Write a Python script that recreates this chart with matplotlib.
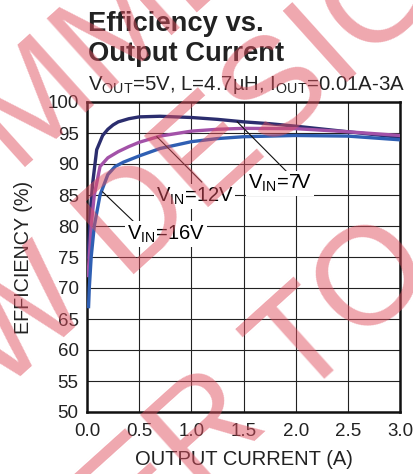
import numpy as np
import matplotlib.pyplot as plt

# dane
x_7v = [0.01, 0.02, 0.035, 0.055, 0.093, 0.15, 0.2, 0.25, 0.3, 0.4, 0.5, 0.7, 1.0, 1.25, 1.5, 1.75, 2.0, 2.5, 3.0]
eff_7v = [75, 78, 83, 87, 92.3, 94.6, 95.6, 96.3, 96.8, 97.3, 97.6, 97.7, 97.5, 97.2, 96.8, 96.5, 96.1, 95.2, 94.3]

x_12v = [0.01, 0.022, 0.04, 0.07, 0.125, 0.2, 0.3, 0.4, 0.5, 0.7, 1.0, 1.25, 1.5, 2.0, 2.5, 3.0]
eff_12v = [72, 75, 80, 85, 89.6, 91, 92, 92.8, 93.5, 94.5, 95.3, 95.6, 95.75, 95.7, 95.2, 94.6]

x_16v = [0.015, 0.022, 0.04, 0.07, 0.125, 0.2, 0.27, 0.35, 0.5, 0.7, 1.0, 1.25, 1.5, 2.0, 2.5, 3.0]
eff_16v = [67, 70, 75, 80, 85, 88.3, 89.6, 90.3, 91.3, 92.5, 93.6, 94.1, 94.4, 94.6, 94.5, 93.9]

x_ticks = [0.0, 0.5, 1.0, 1.5, 2.0, 2.5, 3.0]
y_ticks = [50, 55, 60, 65, 70, 75, 80, 85, 90, 95, 100]

plt.rcParams['font.family'] = ['Liberation Sans', 'DejaVu Sans']
plt.rcParams['mathtext.fontset'] = 'custom'
plt.rcParams['mathtext.rm'] = 'Liberation Sans'
plt.rcParams['mathtext.it'] = 'Liberation Sans'

W, H = 413, 474
fig = plt.figure(figsize=(W / 100, H / 100), dpi=100)
ax = fig.add_axes([87 / W, 1 - 412 / H, 313 / W, 310 / H])


def px(x, y):
    # piksele obrazka -> wspolrzedne figury
    return x / W, 1 - y / H


# krzywe
ax.plot(x_7v, eff_7v, color='#2b2d6e', lw=2.4, zorder=3)
ax.plot(x_12v, eff_12v, color='#a352a8', lw=2.4, zorder=3)
ax.plot(x_16v, eff_16v, color='#2f5fb3', lw=2.4, zorder=3)

ax.set_xlim(0, 3.0)
ax.set_ylim(50, 100)
ax.set_xticks(x_ticks)
ax.set_yticks(y_ticks)
ax.set_xticklabels(['%.1f' % v for v in x_ticks])
ax.tick_params(length=0, labelsize=13.5, colors='#222222')
ax.tick_params(axis='x', pad=8)
ax.tick_params(axis='y', pad=6)
ax.grid(True, color='#222222', lw=0.8)
ax.set_axisbelow(True)
for s in ax.spines.values():
    s.set_linewidth(1.8)
    s.set_color('#111111')

ax.set_xlabel('OUTPUT CURRENT (A)', fontsize=14.5, color='#222222', labelpad=7)
ax.set_ylabel('EFFICIENCY (%)', fontsize=14.2, color='#222222', labelpad=10)

# opisy krzywych z liniami odniesienia
box = dict(facecolor='white', edgecolor='none', pad=1.5)
ax.text(1.54, 86.9, r'V$_{\rm IN}$=7V', fontsize=14.5, va='center', ha='left', bbox=box, zorder=5)
ax.plot([1.44, 1.93], [96.8, 88.5], color='#111111', lw=0.8, zorder=4)
ax.text(1.03, 84.8, r'V$_{\rm IN}$=12V', fontsize=14.5, va='center', ha='center', bbox=box, zorder=5)
ax.plot([0.67, 1.1], [94.4, 87.1], color='#111111', lw=0.8, zorder=4)
ax.text(0.76, 78.7, r'V$_{\rm IN}$=16V', fontsize=14.5, va='center', ha='center', bbox=box, zorder=5)
ax.plot([0.15, 0.46], [85.5, 80.5], color='#111111', lw=0.8, zorder=4)

# tytul
fig.text(*px(88, 31), 'Efficiency vs.', fontsize=19.7, fontweight='bold', color='#222222', va='baseline')
fig.text(*px(88, 61), 'Output Current', fontsize=19.7, fontweight='bold', color='#222222', va='baseline')
fig.text(*px(88, 90), r'V$_{\rm OUT}$=5V, L=4.7µH, I$_{\rm OUT}$=0.01A-3A', fontsize=14.7,
         color='#222222', va='baseline')

# znak wodny
wm = dict(fontsize=100, color='#e05060', alpha=0.5, rotation=42, rotation_mode='anchor',
          va='center', zorder=10)
fig.text(*px(-550, 637), 'NOT RECOMMENDED', ha='left', **wm)
fig.text(*px(-168, 498), 'NEW DESIGNS', ha='left', **wm)
fig.text(*px(415, 248), 'REFER TO', ha='right', **wm)

fig.savefig('out.png', dpi=100)
